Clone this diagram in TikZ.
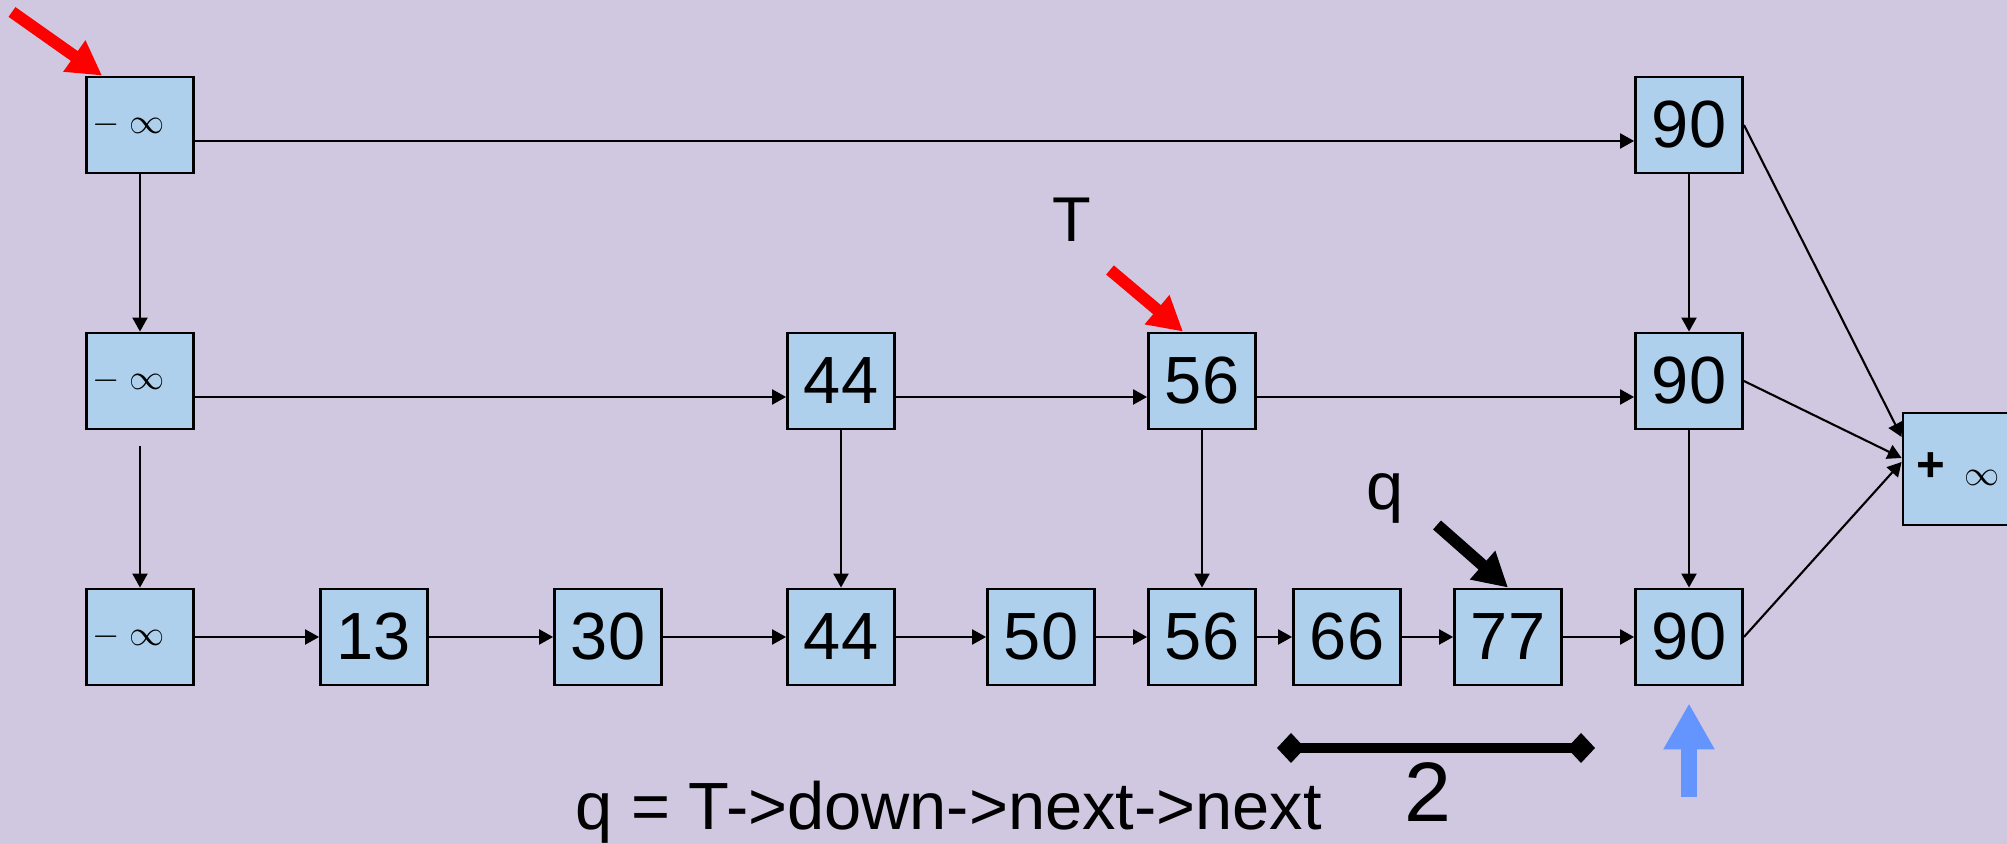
\documentclass[tikz,border=0pt]{standalone}
\usepackage{fontspec}
\setmainfont{Liberation Sans}
\usetikzlibrary{arrows.meta}

\tikzset{
	cell/.style={draw=black, line width=0.8pt, fill=cellcolor, minimum width=1.07cm, minimum height=0.96cm, inner sep=0pt, font=\fontsize{19}{22}\selectfont},
	minf/.style={cell, font=\normalsize, text width=0.95cm, align=left, inner xsep=0.6mm},
	link/.style={line width=0.6pt, -{Triangle[length=1.4mm, width=1.5mm]}},
	ptr/.style={line width=3.4pt, -{Triangle[length=3.4mm, width=3.6mm]}},
	lbl/.style={font=\fontsize{19}{22}\selectfont, inner sep=0pt}
}

\begin{document}
\begin{tikzpicture}
		
		% Define colors
		\definecolor{bgcolor}{RGB}{208, 200, 225}
		\definecolor{cellcolor}{RGB}{174, 208, 236}
		\definecolor{ptrred}{RGB}{255, 0, 0}
		\definecolor{ptrblue}{RGB}{100, 149, 255}
		
		% Background
		\path[use as bounding box, fill=bgcolor] (0,0) rectangle (20.07,8.44);
		
		% Top level
		\node[minf] (topinf) at (1.40,7.19) {$-\;\infty$};
		\node[cell] (top90) at (16.89,7.19) {90};
		
		% Middle level
		\node[minf] (midinf) at (1.40,4.63) {$-\;\infty$};
		\node[cell] (mid44) at (8.41,4.63) {44};
		\node[cell] (mid56) at (12.02,4.63) {56};
		\node[cell] (mid90) at (16.89,4.63) {90};
		
		% Bottom level
		\node[minf] (botinf) at (1.40,2.07) {$-\;\infty$};
		\node[cell] (bot13) at (3.74,2.07) {13};
		\node[cell] (bot30) at (6.08,2.07) {30};
		\node[cell] (bot44) at (8.41,2.07) {44};
		\node[cell] (bot50) at (10.41,2.07) {50};
		\node[cell] (bot56) at (12.02,2.07) {56};
		\node[cell] (bot66) at (13.47,2.07) {66};
		\node[cell] (bot77) at (15.08,2.07) {77};
		\node[cell] (bot90) at (16.89,2.07) {90};
		
		% Tail sentinel, shared by all levels
		\node[cell, minimum width=1.10cm, minimum height=1.12cm, font=\fontsize{14}{16}\selectfont] (posinf) at (19.58,3.75)
			{{\bfseries +}\hspace{5.7pt}\raisebox{-1.2pt}{\normalsize$\infty$}};
		
		% Links of the top level
		\draw[link] ([yshift=-1.6mm]topinf.east) -- ([yshift=-1.6mm]top90.west);
		\draw[link] (topinf) -- (midinf);
		\draw[link] (top90) -- (mid90);
		\draw[link] (top90.east) -- ([yshift=3.2mm]posinf.west);
		
		% Links of the middle level
		\draw[link] ([yshift=-1.6mm]midinf.east) -- ([yshift=-1.6mm]mid44.west);
		\draw[link] ([yshift=-1.6mm]mid44.east) -- ([yshift=-1.6mm]mid56.west);
		\draw[link] ([yshift=-1.6mm]mid56.east) -- ([yshift=-1.6mm]mid90.west);
		\draw[link] (mid90.east) -- ([yshift=1.1mm]posinf.west);
		\draw[link, shorten <=1.6mm] (midinf) -- (botinf);
		\draw[link] (mid44) -- (bot44);
		\draw[link] (mid56) -- (bot56);
		\draw[link] (mid90) -- (bot90);
		
		% Links of the bottom level
		\draw[link] (botinf) -- (bot13);
		\draw[link] (bot13) -- (bot30);
		\draw[link] (bot30) -- (bot44);
		\draw[link] (bot44) -- (bot50);
		\draw[link] (bot50) -- (bot56);
		\draw[link] (bot56) -- (bot66);
		\draw[link] (bot66) -- (bot77);
		\draw[link] (bot77) -- (bot90);
		\draw[link] (bot90.east) -- ([yshift=0.7mm]posinf.west);
		
		% Pointers
		\coordinate (headtail) at (0.12,8.32);
		\draw[ptr, ptrred] (headtail) -- ([xshift=1.7mm]topinf.north west);
		
		\coordinate (ttail) at (11.10,5.74);
		\draw[ptr, ptrred] (ttail) -- ([xshift=-1.9mm]mid56.north);
		\node[lbl, font=\fontsize{18}{21}\selectfont, anchor=base] (tlabel) at (10.72,6.02) {T};
		
		\coordinate (qtail) at (14.37,3.19);
		\draw[ptr] (qtail) -- (bot77.north);
		\node[lbl, anchor=base] (qlabel) at (13.85,3.34) {q};
		
		% Current position below the bottom level
		\coordinate (curtail) at (16.89,0.47);
		\draw[ptrblue, line width=4.5pt, -{Triangle[length=4.6mm, width=4.8mm]}] (curtail) -- ([yshift=-1.7mm]bot90.south);
		
		% Distance of two steps
		\coordinate (distleft) at (12.77,0.96);
		\coordinate (distright) at (15.95,0.96);
		\draw[line width=2.6pt, {Diamond[length=2.8mm, width=3mm]}-{Diamond[length=2.8mm, width=3mm]}] (distleft) -- (distright);
		\node[lbl, font=\fontsize{24}{28}\selectfont, anchor=base] (distlabel) at (14.28,0.22) {2};
		
		% Expression for q
		\node[lbl, anchor=base west] (qexpr) at (5.75,0.14) {q = T->down->next->next};
	\end{tikzpicture}
\end{document}
